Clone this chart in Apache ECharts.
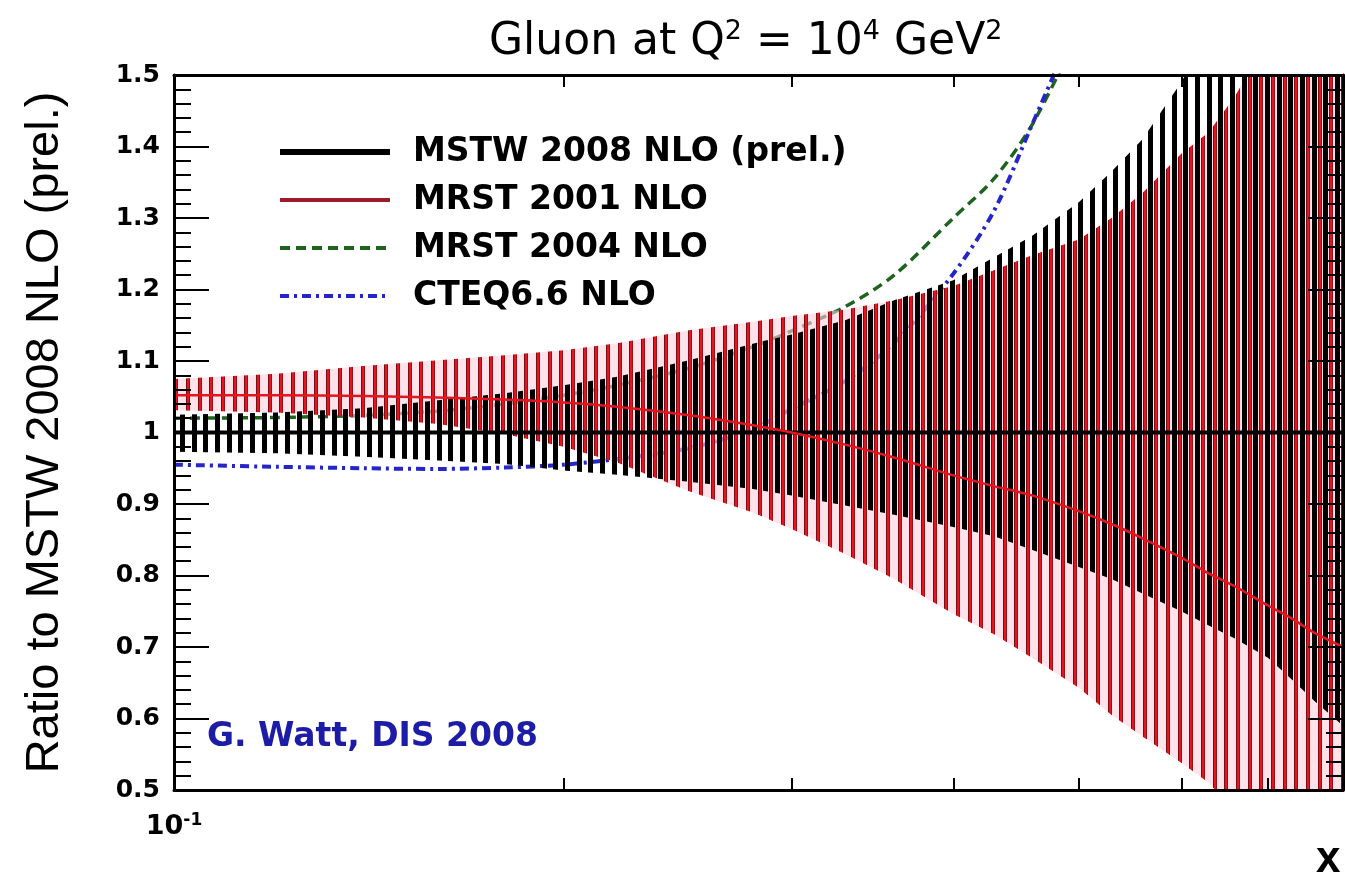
<!DOCTYPE html>
<html>
<head>
<meta charset="utf-8">
<script src="https://cdn.jsdelivr.net/npm/echarts@6/dist/echarts.min.js"></script>
<style>html,body{margin:0;padding:0;background:#fff}#c{width:1345px;height:888px}</style>
</head>
<body>
<div id="c"></div>
<script>
// ---- data ----
const xValues       = [0.1, 0.12, 0.14, 0.16, 0.18, 0.2, 0.22, 0.25, 0.28, 0.3, 0.33, 0.36, 0.4, 0.43, 0.46, 0.5, 0.53, 0.56, 0.6, 0.63, 0.66, 0.7, 0.73, 0.76, 0.8];
const mstwCentral   = [1, 1, 1, 1, 1, 1, 1, 1, 1, 1, 1, 1, 1, 1, 1, 1, 1, 1, 1, 1, 1, 1, 1, 1, 1];
const mstwHigh      = [1.025, 1.028, 1.034, 1.045, 1.055, 1.066, 1.078, 1.101, 1.124, 1.137, 1.157, 1.185, 1.213, 1.245, 1.275, 1.322, 1.365, 1.41, 1.49, 1.56, 1.62, 1.70, 1.76, 1.82, 1.9];
const mstwLow       = [0.973, 0.971, 0.966, 0.961, 0.956, 0.947, 0.941, 0.931, 0.921, 0.912, 0.898, 0.885, 0.868, 0.855, 0.836, 0.812, 0.795, 0.775, 0.75, 0.73, 0.712, 0.685, 0.655, 0.625, 0.59];
const mrst01Central = [1.052, 1.052, 1.051, 1.049, 1.046, 1.042, 1.036, 1.024, 1.01, 1.0, 0.983, 0.965, 0.94, 0.925, 0.912, 0.89, 0.872, 0.852, 0.825, 0.803, 0.785, 0.758, 0.74, 0.72, 0.70];
const mrst01High    = [1.075, 1.082, 1.093, 1.101, 1.108, 1.115, 1.125, 1.143, 1.155, 1.163, 1.172, 1.185, 1.205, 1.227, 1.248, 1.27, 1.30, 1.335, 1.39, 1.42, 1.47, 1.55, 1.6, 1.65, 1.7];
const mrst01Low     = [1.031, 1.028, 1.021, 1.012, 0.998, 0.980, 0.958, 0.918, 0.888, 0.865, 0.83, 0.795, 0.746, 0.718, 0.685, 0.643, 0.605, 0.575, 0.538, 0.51, 0.47, 0.43, 0.40, 0.37, 0.34];
const mrst04Central = [1.02, 1.021, 1.024, 1.03, 1.04, 1.052, 1.066, 1.09, 1.12, 1.142, 1.176, 1.22, 1.3, 1.355, 1.43, 1.56, null, null, null, null, null, null, null, null, null];
const cteqCentral   = [0.955, 0.952, 0.95, 0.949, 0.951, 0.955, 0.963, 0.978, 1.005, 1.033, 1.072, 1.125, 1.222, 1.31, 1.43, 1.58, null, null, null, null, null, null, null, null, null];
const xTickValues   = [0.2, 0.3, 0.4, 0.5, 0.6, 0.7];
const xLabelValues  = [0.1];
const legendNames   = ['MSTW 2008 NLO (prel.)', 'MRST 2001 NLO', 'MRST 2004 NLO', 'CTEQ6.6 NLO'];

// ---- hatch patterns (vertical stripes, like ROOT fill styles) ----
function makePattern(bg, stripes) {
  const W = 35, H = 8;
  const c = document.createElement('canvas');
  c.width = W; c.height = H;
  const g = c.getContext('2d');
  if (bg) { g.fillStyle = bg; g.fillRect(0, 0, W, H); }
  stripes.forEach(s => {
    g.fillStyle = s.color;
    for (let p = s.start; p < s.start + s.width; p++) g.fillRect(((p % W) + W) % W, 0, 1, H);
  });
  return c;
}
const blackPat = makePattern(null, [
  {start: 5, width: 5, color: '#000'}, {start: 17, width: 5, color: '#000'}, {start: 28, width: 5, color: '#000'}
]);
const redStripes = [];
[11, 23, 34].forEach(s => {
  redStripes.push({start: s, width: 4, color: '#e3151f'});
  redStripes.push({start: s, width: 1, color: '#7c0c12'});
  redStripes.push({start: s + 3, width: 1, color: '#9a1018'});
});
const redPat = makePattern('rgba(255,206,220,0.6)', redStripes);

const pair = arr => xValues.map((x, i) => [x, arr[i]]);

// band drawn once as one polygon through the axis scales (api.coord)
function bandSeries(name, lo, hi, pattern, z) {
  return {
    name: name, type: 'custom', z: z, silent: true,
    data: xValues.map((x, i) => [x, lo[i], hi[i]]),
    encode: {x: 0, y: [1, 2]},
    renderItem: function (params, api) {
      if (params.dataIndexInside !== 0) return null;
      const upper = xValues.map((x, i) => api.coord([x, hi[i]]));
      const lower = xValues.map((x, i) => api.coord([x, lo[i]])).reverse();
      const cs = params.coordSys;
      return {
        type: 'polygon',
        shape: {points: upper.concat(lower)},
        style: {fill: {image: pattern, repeat: 'repeat'}, stroke: null},
        clipPath: {type: 'rect', shape: {x: cs.x, y: cs.y, width: cs.width, height: cs.height}}
      };
    }
  };
}

const chart = echarts.init(document.getElementById('c'), null, {renderer: 'canvas'});
const axisBlack = {color: '#000', width: 3};
const tickStyle = {color: '#000', width: 2};

chart.setOption({
  animation: false,
  backgroundColor: '#fff',
  title: {
    text: '{n|Gluon at Q}{s|2}{n| = 10}{s|4}{n| GeV}{s|2}',
    left: 484, top: 13,
    textStyle: {
      rich: {
        n: {fontFamily: 'DejaVu Sans', fontWeight: 'normal', fontSize: 44, color: '#000', lineHeight: 49},
        s: {fontFamily: 'DejaVu Sans', fontWeight: 'normal', fontSize: 27, color: '#000', verticalAlign: 'top', lineHeight: 49}
      }
    }
  },
  grid: {left: 174, right: 2, top: 75, bottom: 98, containLabel: false, outerBoundsMode: 'none'},
  legend: {
    show: true, orient: 'vertical', left: 272, top: 129, selectedMode: false,
    itemWidth: 110, itemHeight: 14, itemGap: 12,
    itemStyle: {opacity: 0},
    textStyle: {fontFamily: 'DejaVu Sans', fontWeight: 'bold', fontSize: 33, color: '#000', lineHeight: 36, padding: [0, 0, 0, 18]},
    data: [
      {name: legendNames[0], lineStyle: {width: 6}},
      {name: legendNames[1], lineStyle: {width: 4, color: '#9b1a2c'}},
      {name: legendNames[2], lineStyle: {width: 4}},
      {name: legendNames[3], lineStyle: {width: 4}}
    ]
  },
  xAxis: [{
    type: 'log', logBase: 10, min: 0.1, max: 0.8, position: 'bottom', z: 10,
    axisLine: {show: true, lineStyle: axisBlack},
    axisTick: {show: true, inside: true, length: 12, lineStyle: tickStyle, customValues: xTickValues},
    minorTick: {show: false}, splitLine: {show: false},
    axisLabel: {
      show: true, customValues: xLabelValues, margin: 22,
      formatter: v => '{a|10}{b|' + Math.round(Math.log10(v)) + '}',
      rich: {
        a: {fontFamily: 'DejaVu Sans', fontWeight: 'bold', fontSize: 27, color: '#000', lineHeight: 30},
        b: {fontFamily: 'DejaVu Sans', fontWeight: 'bold', fontSize: 17, color: '#000', verticalAlign: 'top', lineHeight: 30}
      }
    }
  }, {
    type: 'log', logBase: 10, min: 0.1, max: 0.8, position: 'top', z: 10,
    axisLine: {show: true, lineStyle: axisBlack},
    axisTick: {show: true, inside: true, length: 12, lineStyle: tickStyle, customValues: xTickValues},
    minorTick: {show: false}, splitLine: {show: false}, axisLabel: {show: false}
  }],
  yAxis: [{
    type: 'value', min: 0.5, max: 1.5, interval: 0.1, position: 'left', z: 10,
    name: 'Ratio to MSTW 2008 NLO (prel.)', nameLocation: 'middle', nameGap: 105,
    nameTextStyle: {fontFamily: 'Liberation Sans', fontSize: 47, color: '#000'},
    axisLine: {show: true, lineStyle: axisBlack},
    axisTick: {show: true, inside: true, length: 35, lineStyle: tickStyle},
    minorTick: {show: true, splitNumber: 5, length: 17, lineStyle: tickStyle},
    splitLine: {show: false},
    axisLabel: {fontFamily: 'DejaVu Sans', fontWeight: 'bold', fontSize: 25, color: '#000', margin: 14}
  }, {
    type: 'value', min: 0.5, max: 1.5, interval: 0.1, position: 'right', z: 10,
    axisLine: {show: true, lineStyle: axisBlack},
    axisTick: {show: true, inside: true, length: 35, lineStyle: tickStyle},
    minorTick: {show: true, splitNumber: 5, length: 17, lineStyle: tickStyle},
    splitLine: {show: false}, axisLabel: {show: false}
  }],
  series: [
    {name: legendNames[2], type: 'line', data: pair(mrst04Central), symbol: 'none', smooth: 0.3,
     lineStyle: {color: '#1e641e', width: 3.5, type: [10, 6]}, itemStyle: {color: '#1e641e'}, z: 1},
    {name: legendNames[3], type: 'line', data: pair(cteqCentral), symbol: 'none', smooth: 0.3,
     lineStyle: {color: '#2626c8', width: 4, type: [9, 5, 3, 5]}, itemStyle: {color: '#2626c8'}, z: 1},
    bandSeries('MRST 2001 band', mrst01Low, mrst01High, redPat, 2),
    bandSeries('MSTW 2008 band', mstwLow, mstwHigh, blackPat, 3),
    {name: legendNames[0], type: 'line', data: pair(mstwCentral), symbol: 'none',
     lineStyle: {color: '#000', width: 4}, itemStyle: {color: '#000'}, z: 4},
    {name: legendNames[1], type: 'line', data: pair(mrst01Central), symbol: 'none', smooth: 0.3,
     lineStyle: {color: '#e3151f', width: 2.5}, itemStyle: {color: '#e3151f'}, z: 4}
  ],
  graphic: [
    {type: 'text', left: 207, top: 721, z: 20,
     style: {text: 'G. Watt, DIS 2008', font: 'bold 33px "DejaVu Sans"', fill: '#1c1ca6'}},
    {type: 'text', left: 1316, top: 838, z: 20,
     style: {text: 'x', font: 'bold 44px "Liberation Sans"', fill: '#000'}}
  ]
});
</script>
</body>
</html>
